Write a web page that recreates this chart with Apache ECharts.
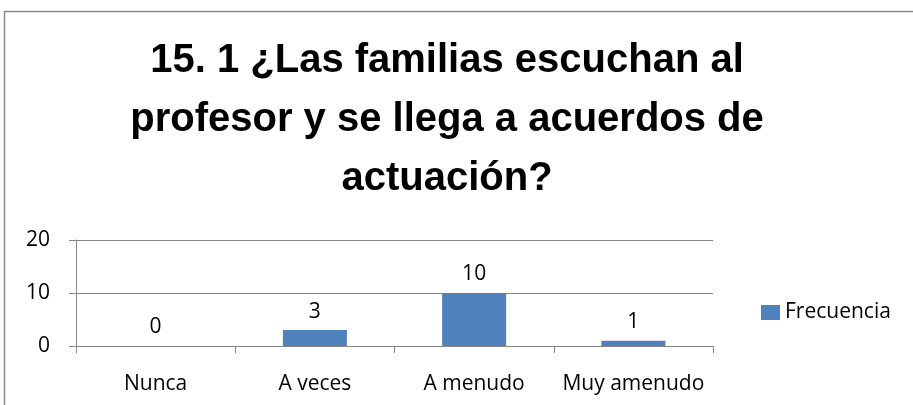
<!DOCTYPE html>
<html>
<head>
<meta charset="utf-8">
<script src="https://cdn.jsdelivr.net/npm/echarts@6/dist/echarts.min.js"></script>
<style>
html,body{margin:0;padding:0;background:#fff;}
#chart{width:913px;height:405px;}
</style>
</head>
<body>
<div id="chart"></div>
<script>
const titleText = "15. 1 ¿Las familias escuchan al\nprofesor y se llega a acuerdos de\nactuación?";
const categories = ["Nunca", "A veces", "A menudo", "Muy amenudo"];
const seriesName = "Frecuencia";
const values = [0, 3, 10, 1];
const yTicks = [0, 10, 20];

const chart = echarts.init(document.getElementById('chart'), null, {renderer: 'canvas'});
const axisFont = "'Open Sans', 'Liberation Sans', sans-serif";
chart.setOption({
  animation: false,
  backgroundColor: '#ffffff',
  graphic: [{
    type: 'rect',
    shape: {x: 4.5, y: 11.5, width: 1000, height: 500},
    style: {fill: 'none', stroke: '#8a8a8a', lineWidth: 1.5},
    silent: true
  }],
  title: {
    text: titleText,
    left: 442,
    textAlign: 'center',
    top: 26,
    textStyle: {
      fontFamily: "'Liberation Sans', Arial, sans-serif",
      fontWeight: 'bold',
      fontSize: 40,
      lineHeight: 59,
      color: '#000'
    }
  },
  legend: {
    data: [seriesName],
    left: 756,
    top: 297,
    itemWidth: 19,
    itemHeight: 15,
    icon: 'rect',
    textStyle: {fontFamily: axisFont, fontSize: 21, color: '#000'}
  },
  grid: {left: 76, right: 200, top: 240, bottom: 59, containLabel: false},
  xAxis: {
    type: 'category',
    data: categories,
    boundaryGap: true,
    axisLine: {show: true, lineStyle: {color: '#868686', width: 1}},
    axisTick: {show: true, alignWithLabel: false, length: 7, lineStyle: {color: '#868686'}},
    axisLabel: {fontFamily: axisFont, fontSize: 21, color: '#000', margin: 28, interval: 0},
    splitLine: {show: false}
  },
  yAxis: {
    type: 'value',
    min: yTicks[0],
    max: yTicks[yTicks.length - 1],
    interval: yTicks[1] - yTicks[0],
    axisLine: {show: true, lineStyle: {color: '#868686', width: 1}},
    axisTick: {show: true, length: 7, lineStyle: {color: '#868686'}},
    axisLabel: {fontFamily: axisFont, fontSize: 21, color: '#000', margin: 26},
    splitLine: {show: true, lineStyle: {color: '#868686', width: 1}}
  },
  series: [{
    name: seriesName,
    type: 'bar',
    data: values,
    barWidth: 64,
    itemStyle: {color: '#4F81BD'},
    label: {
      show: true,
      position: 'top',
      distance: 8,
      fontFamily: axisFont,
      fontSize: 21,
      color: '#000'
    }
  }]
});
</script>
</body>
</html>
